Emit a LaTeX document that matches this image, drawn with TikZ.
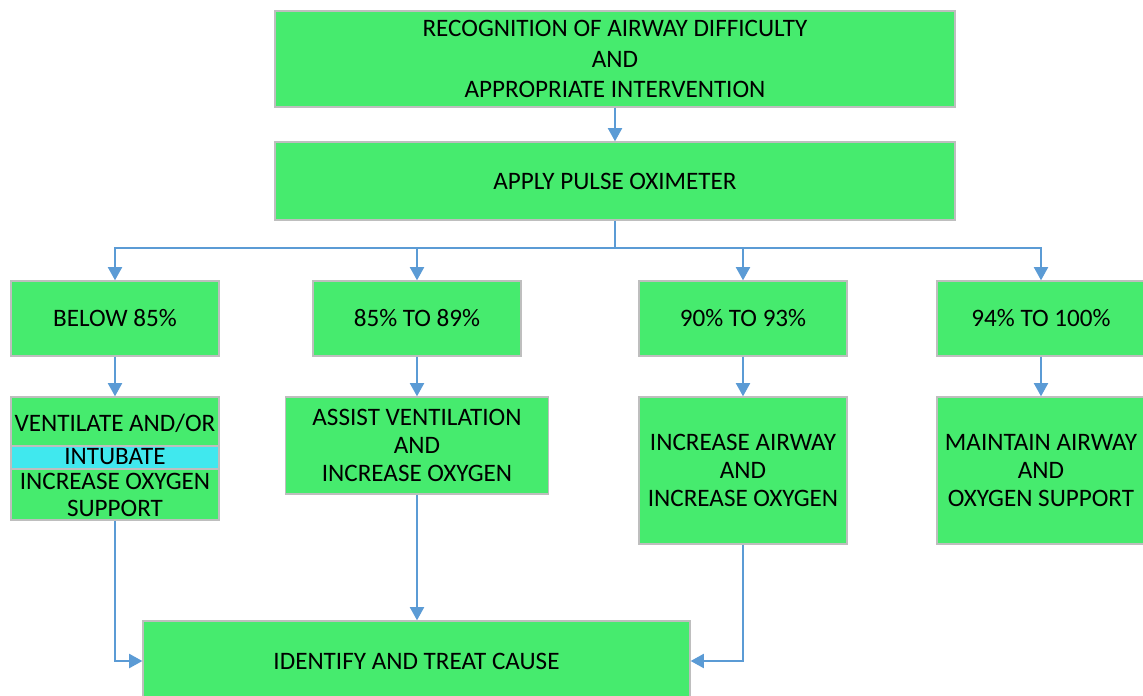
\documentclass[tikz,border=0pt]{standalone}
\usepackage{fontspec}
\setmainfont{Carlito}
\usetikzlibrary{arrows.meta}
\definecolor{boxgreen}{RGB}{70,235,110}
\definecolor{boxcyan}{RGB}{64,232,238}
\definecolor{boxline}{RGB}{190,190,190}
\definecolor{arrowblue}{RGB}{91,155,213}
\begin{document}
\begin{tikzpicture}[x=0.02cm,y=-0.02cm,
  gbox/.style={draw=boxline,line width=0.8pt,fill=boxgreen,rectangle,align=center,inner sep=0pt,
    font=\fontsize{14.3}{16}\selectfont},
  plain/.style={inner sep=0pt,align=center,font=\fontsize{14.3}{16}\selectfont},
  conn/.style={draw=arrowblue,line width=1.1pt,-{Triangle[length=7.5pt,width=8pt]}}]
\useasboundingbox (0,0) rectangle (1143,696);
% top
\node[gbox,minimum width=13.6cm,minimum height=1.92cm,font=\fontsize{14.3}{17.2}\selectfont] (top) at (615,59)
  {RECOGNITION OF AIRWAY DIFFICULTY\\AND\\APPROPRIATE INTERVENTION};
\node[gbox,minimum width=13.6cm,minimum height=1.56cm] (pulse) at (615,181) {APPLY PULSE OXIMETER};
% row of ranges
\node[gbox,minimum width=4.16cm,minimum height=1.5cm] (r1) at (115,318.5) {BELOW 85\%};
\node[gbox,minimum width=4.16cm,minimum height=1.5cm] (r2) at (417,318.5) {85\% TO 89\%};
\node[gbox,minimum width=4.16cm,minimum height=1.5cm] (r3) at (743,318.5) {90\% TO 93\%};
\node[gbox,minimum width=4.16cm,minimum height=1.5cm] (r4) at (1041,318.5) {94\% TO 100\%};
% actions
\node[gbox,minimum width=4.16cm,minimum height=2.46cm] (b1) at (115,458.5) {};
\node[draw=boxline,line width=0.8pt,fill=boxcyan,minimum width=4.16cm,minimum height=0.46cm,inner sep=0pt] (strip) at (115,457.5) {};
\node[plain] (t1a) at (115,423) {VENTILATE AND/OR};
\node[plain] (t1b) at (115,457) {INTUBATE};
\node[plain] (t1c) at (115,481) {INCREASE OXYGEN};
\node[plain] (t1d) at (115,508) {SUPPORT};
\node[gbox,minimum width=5.26cm,minimum height=1.94cm] (b2) at (417,445.5)
  {ASSIST VENTILATION\\AND\\INCREASE OXYGEN};
\node[gbox,minimum width=4.16cm,minimum height=2.94cm] (b3) at (743,470.5)
  {INCREASE AIRWAY\\AND\\INCREASE OXYGEN};
\node[gbox,minimum width=4.16cm,minimum height=2.94cm] (b4) at (1041,470.5)
  {MAINTAIN AIRWAY\\AND\\OXYGEN SUPPORT};
\node[gbox,minimum width=10.94cm,minimum height=1.6cm] (bot) at (416.5,661) {IDENTIFY AND TREAT CAUSE};
% connectors
\coordinate (br) at (615,248);
\draw[conn] (top.south) -- (pulse.north);
\draw[draw=arrowblue,line width=1.1pt] (pulse.south) -- (br);
\draw[conn] (br) -| (r1.north);
\draw[conn] (br) -| (r2.north);
\draw[conn] (br) -| (r3.north);
\draw[conn] (br) -| (r4.north);
\draw[conn] (r1.south) -- (b1.north);
\draw[conn] (r2.south) -- (b2.north);
\draw[conn] (r3.south) -- (b3.north);
\draw[conn] (r4.south) -- (b4.north);
\draw[conn] (b1.south) |- (bot.west);
\draw[conn] (b2.south) -- (b2.south |- bot.north);
\draw[conn] (b3.south) |- (bot.east);
\end{tikzpicture}
\end{document}
